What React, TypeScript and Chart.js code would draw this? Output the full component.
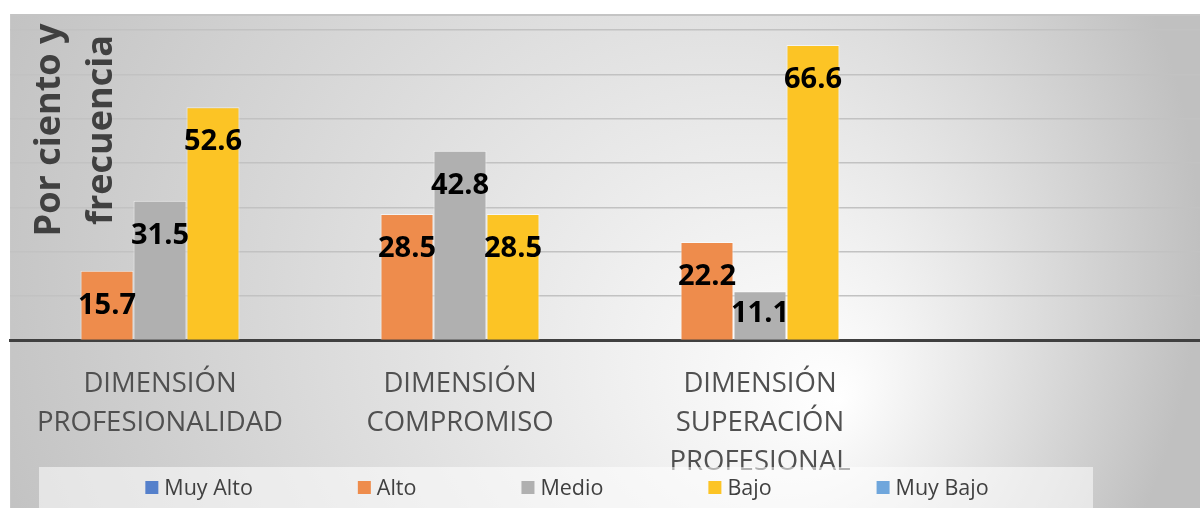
import React, { useEffect, useRef } from "react";
import { Chart, registerables } from "chart.js";

Chart.register(...registerables);

// ---- data ----
const categories: (string | string[])[] = [
  ["DIMENSIÓN", "PROFESIONALIDAD"],
  ["DIMENSIÓN", "COMPROMISO"],
  ["DIMENSIÓN", "SUPERACIÓN", "PROFESIONAL"],
  "",
];
const seriesNames = ["Muy Alto", "Alto", "Medio", "Bajo", "Muy Bajo"];
const muyAltoValues: (number | null)[] = [null, null, null, null];
const altoValues: (number | null)[] = [15.7, 28.5, 22.2, null];
const medioValues: (number | null)[] = [31.5, 42.8, 11.1, null];
const bajoValues: (number | null)[] = [52.6, 28.5, 66.6, null];
const muyBajoValues: (number | null)[] = [null, null, null, null];
const yAxisMax = 70;
const yAxisStep = 10;
const yTitleLines = ["Por ciento y", "frecuencia"];

const seriesColors = ["#5580CB", "#EE8C4C", "#B0B0B0", "#FCC425", "#6FA6DC"];

const FONT = "'Open Sans', 'Noto Sans', sans-serif";

const decorPlugin = {
  id: "decor",
  beforeDraw(chart: any) {
    const { ctx, width, height } = chart;
    ctx.save();
    ctx.fillStyle = "#ffffff";
    ctx.fillRect(0, 0, width, height);
    const g = ctx.createRadialGradient(840, 400, 0, 560, 250, 640);
    g.addColorStop(0, "#ffffff");
    g.addColorStop(1, "#c0c0c0");
    ctx.fillStyle = g;
    ctx.fillRect(10, 14, width - 10, height - 14);
    ctx.strokeStyle = "#c4c4c4";
    ctx.lineWidth = 2;
    ctx.beginPath();
    ctx.moveTo(10, 15);
    ctx.lineTo(width, 15);
    ctx.stroke();
    ctx.lineWidth = 1;
    ctx.strokeStyle = "#c8c8c8";
    ctx.beginPath();
    ctx.moveTo(10.5, 14);
    ctx.lineTo(10.5, height);
    ctx.stroke();
    ctx.restore();
  },
  afterDatasetsDraw(chart: any) {
    const { ctx } = chart;
    ctx.save();
    ctx.font = `bold 29px ${FONT}`;
    ctx.fillStyle = "#000000";
    ctx.textAlign = "center";
    ctx.textBaseline = "alphabetic";
    chart.data.datasets.forEach((ds: any, i: number) => {
      const meta = chart.getDatasetMeta(i);
      meta.data.forEach((bar: any, j: number) => {
        const v = ds.data[j];
        if (v == null) return;
        const cy = Math.min(bar.y + 32.5, bar.base - 28.5);
        ctx.fillText(v.toFixed(1), bar.x, cy + 10.5);
      });
    });
    ctx.restore();
  },
  afterDraw(chart: any) {
    const { ctx } = chart;
    ctx.save();
    // y-axis title
    ctx.font = `bold 36px ${FONT}`;
    ctx.fillStyle = "#404040";
    ctx.textAlign = "center";
    ctx.textBaseline = "alphabetic";
    const baselines = [60, 112];
    yTitleLines.forEach((line, i) => {
      ctx.save();
      ctx.translate(baselines[i], 130);
      ctx.rotate(-Math.PI / 2);
      ctx.fillText(line, 0, 0);
      ctx.restore();
    });
    // legend
    ctx.fillStyle = "rgba(255,255,255,0.55)";
    ctx.fillRect(39, 467, 1054, 41);
    ctx.font = `21.5px ${FONT}`;
    const sq = 13;
    const gapIn = 6;
    const gapOut = 105;
    const widths = chart.data.datasets.map((d: any) => ctx.measureText(d.label).width);
    const total =
      widths.reduce((a: number, b: number) => a + b, 0) +
      chart.data.datasets.length * (sq + gapIn) +
      (chart.data.datasets.length - 1) * gapOut;
    let x = 567 - total / 2;
    const cy = 488;
    ctx.textAlign = "left";
    ctx.textBaseline = "middle";
    chart.data.datasets.forEach((d: any, i: number) => {
      ctx.fillStyle = d.backgroundColor;
      ctx.fillRect(x, cy - 7, sq, sq);
      ctx.fillStyle = "#404040";
      ctx.fillText(d.label, x + sq + gapIn, cy + 1);
      x += sq + gapIn + widths[i] + gapOut;
    });
    ctx.restore();
  },
};

export default function App() {
  const ref = useRef<HTMLCanvasElement | null>(null);
  useEffect(() => {
    document.body.style.margin = "0";
    document.body.style.overflow = "hidden";
    const seriesData = [muyAltoValues, altoValues, medioValues, bajoValues, muyBajoValues];
    const chart = new Chart(ref.current as HTMLCanvasElement, {
      type: "bar",
      data: {
        labels: categories as any,
        datasets: seriesNames.map((name, i) => ({
          label: name,
          data: seriesData[i],
          backgroundColor: seriesColors[i],
          borderColor: "rgba(255,255,255,0.6)",
          borderWidth: 1,
          categoryPercentage: 0.8833,
          barPercentage: 1,
        })),
      },
      options: {
        animation: false,
        responsive: false,
        devicePixelRatio: 1,
        layout: { padding: { top: 30, left: 10, right: 0, bottom: 0 } },
        plugins: {
          legend: { display: false },
          title: { display: false },
          tooltip: { enabled: false },
        },
        scales: {
          x: {
            grid: { display: false, drawTicks: false },
            border: { display: true, color: "#404040", width: 3 },
            ticks: {
              color: "#505050",
              font: { family: FONT, size: 27.5, lineHeight: 1.42 },
              padding: 24,
              maxRotation: 0,
              autoSkip: false,
            },
            afterFit: (s: any) => {
              s.height = 508 - 340.5;
            },
          },
          y: {
            min: 0,
            max: yAxisMax,
            ticks: { display: false, stepSize: yAxisStep },
            grid: { color: "#c2c2c2", lineWidth: 1.5, drawTicks: false },
            border: { display: false },
            afterFit: (s: any) => {
              s.width = 0;
            },
          },
        },
      },
      plugins: [decorPlugin],
    });
    return () => chart.destroy();
  }, []);
  return (
    <div style={{ width: 1200, height: 508, overflow: "hidden" }}>
      <canvas ref={ref} width={1210} height={508} style={{ display: "block" }} />
    </div>
  );
}
